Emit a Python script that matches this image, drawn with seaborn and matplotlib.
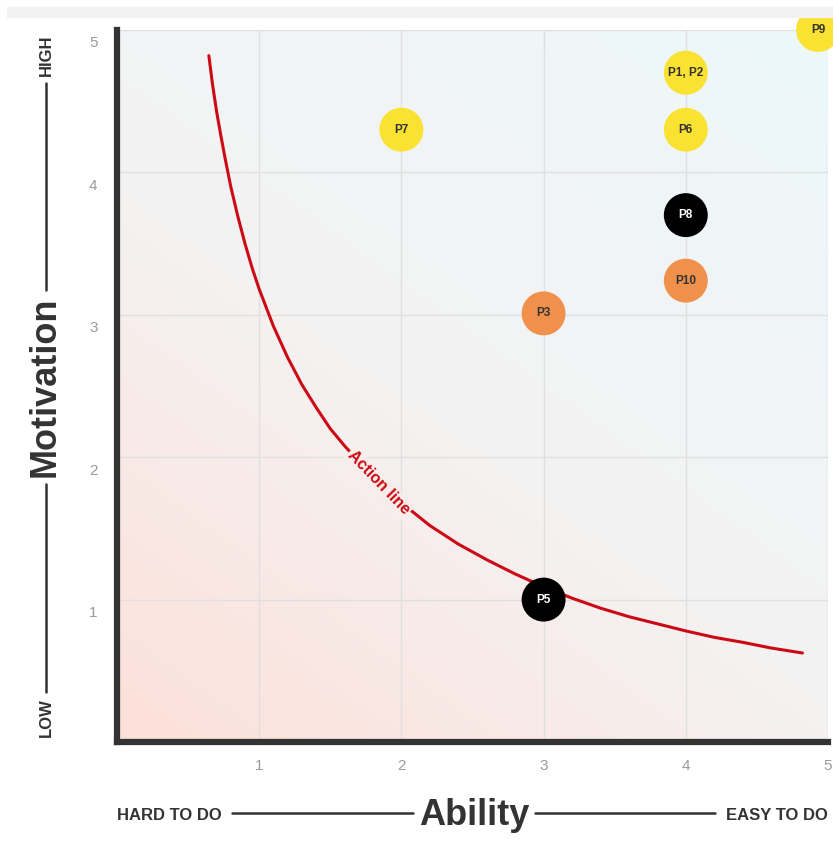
import numpy as np
import pandas as pd
import matplotlib
matplotlib.use("Agg")
import matplotlib.pyplot as plt
import seaborn as sns
from matplotlib.lines import Line2D
from matplotlib.patches import Rectangle
import matplotlib.transforms as mtransforms

# ---------------- data ----------------
labels = ["P9", "P1, P2", "P6", "P7", "P8", "P10", "P3", "P5"]
ability = [4.93, 4.0, 4.0, 2.0, 4.0, 4.0, 3.0, 3.0]
motivation = [5.0, 4.70, 4.30, 4.30, 3.70, 3.24, 3.01, 1.0]
groups = ["yellow", "yellow", "yellow", "yellow", "black", "orange", "orange", "black"]

# action line
curve_x = [0.646, 0.67, 0.70, 0.73, 0.76, 0.80, 0.85, 0.90, 0.95, 1.00,
           1.10, 1.20, 1.30, 1.40, 1.50, 1.60, 1.80, 2.00, 2.20, 2.40,
           2.60, 2.80, 3.00, 3.20, 3.40, 3.60, 3.80, 4.00, 4.20, 4.40,
           4.60, 4.82]
curve_y = [4.82, 4.63, 4.43, 4.26, 4.10, 3.90, 3.69, 3.50, 3.33, 3.18,
           2.92, 2.70, 2.51, 2.35, 2.20, 2.08, 1.86, 1.68, 1.52, 1.39,
           1.28, 1.18, 1.09, 1.01, 0.94, 0.88, 0.83, 0.78, 0.735, 0.70,
           0.66, 0.625]

x_ticks = [1, 2, 3, 4, 5]
y_ticks = [1, 2, 3, 4, 5]

palette = {"yellow": "#F9E231", "orange": "#F0914B", "black": "#000000"}
text_colors = {"yellow": "#333333", "orange": "#333333", "black": "#FFFFFF"}

df = pd.DataFrame({"label": labels, "ability": ability,
                   "motivation": motivation, "group": groups})

# ---------------- style ----------------
sns.set_theme(style="white")
plt.rcParams["font.family"] = ["Liberation Sans", "DejaVu Sans"]

W, H = 833, 846
fig = plt.figure(figsize=(W / 100, H / 100), dpi=100)
fig.patch.set_facecolor("white")
ax = fig.add_axes([117 / W, 1 - 742 / H, (828 - 117) / W, (742 - 30) / H])

# background gradient (pink bottom-left -> light cyan top-right)
n = 300
u, v = np.meshgrid(np.linspace(0, 1, n), np.linspace(0, 1, n))
t = 0.42 * u + 0.58 * v
c0 = np.array([253, 224, 217]) / 255
c1 = np.array([244, 242, 242]) / 255
c2 = np.array([236, 248, 251]) / 255
w1 = np.clip(t / 0.45, 0, 1)[..., None]
w2 = np.clip((t - 0.45) / 0.55, 0, 1)[..., None]
img = np.where(t[..., None] < 0.45, c0 * (1 - w1) + c1 * w1, c1 * (1 - w2) + c2 * w2)
ax.imshow(img, extent=[0, 5, 0, 5], origin="lower", aspect="auto", zorder=0)

ax.set_xlim(0, 5)
ax.set_ylim(0, 5)
ax.set_axisbelow(True)
ax.grid(True, color="#e0e0e0", lw=1.0)
ax.set_xticks(x_ticks)
ax.set_yticks(y_ticks)
ax.set_xticklabels([str(v) for v in x_ticks])
ax.set_yticklabels([str(v) for v in y_ticks])
ax.tick_params(axis="both", length=0, labelsize=11, labelcolor="#9a9a9a")
ax.tick_params(axis="y", pad=14)
ax.tick_params(axis="x", pad=12)
for lab in ax.get_yticklabels():
    lab.set_transform(lab.get_transform() +
                      mtransforms.ScaledTranslation(0, -0.12, fig.dpi_scale_trans))

for side in ["top", "right"]:
    ax.spines[side].set_visible(False)
for side in ["left", "bottom"]:
    ax.spines[side].set_visible(True)
    ax.spines[side].set_color("#333333")
    ax.spines[side].set_linewidth(4.5)
    ax.spines[side].set_zorder(5)

# action line
sns.lineplot(x=curve_x, y=curve_y, sort=False, color="#CC0A16", lw=2.2,
             ax=ax, zorder=2)
ax.text(1.84, 1.82, "Action line", rotation=-46, rotation_mode="anchor",
        ha="center", va="center", color="#CC0A16", fontsize=11.5,
        fontweight="bold", zorder=3,
        bbox=dict(facecolor="#f7edeb", edgecolor="none", pad=1.2))

# points
sns.scatterplot(data=df, x="ability", y="motivation", hue="group",
                palette=palette, s=1000, edgecolor="none", legend=False,
                ax=ax, zorder=4, clip_on=False)
for lab, xx, yy, g in zip(labels, ability, motivation, groups):
    ax.text(xx, yy, lab, ha="center", va="center", color=text_colors[g],
            fontsize=8.5, fontweight="bold", zorder=6, clip_on=False)

ax.set_xlabel("")
ax.set_ylabel("")

# ---------------- figure decorations ----------------
def fx(px):
    return px / W


def fy(py):
    return 1 - py / H


dark = "#333333"
fig.patches.append(Rectangle((fx(7), fy(17)), (833 - 7) / W, 10 / H,
                             transform=fig.transFigure, color="#f2f2f2", zorder=0))

# y-axis label
fig.text(fx(46), fy(55), "HIGH", rotation=90, ha="center", va="center",
         fontsize=12, fontweight="bold", color=dark)
fig.add_artist(Line2D([fx(46), fx(46)], [fy(83), fy(290)], transform=fig.transFigure,
                      color=dark, lw=1.8))
fig.text(fx(45), fy(387), "Motivation", rotation=90, ha="center", va="center",
         fontsize=26, fontweight="bold", color=dark)
fig.add_artist(Line2D([fx(46), fx(46)], [fy(484), fy(692)], transform=fig.transFigure,
                      color=dark, lw=1.8))
fig.text(fx(46), fy(718), "LOW", rotation=90, ha="center", va="center",
         fontsize=12, fontweight="bold", color=dark)

# x-axis label
fig.text(fx(117), fy(820), "HARD TO DO", ha="left", va="baseline",
         fontsize=12, fontweight="bold", color=dark)
fig.add_artist(Line2D([fx(232), fx(413)], [fy(813), fy(813)], transform=fig.transFigure,
                      color=dark, lw=1.8))
fig.text(fx(474), fy(825), "Ability", ha="center", va="baseline",
         fontsize=26, fontweight="bold", color=dark)
fig.add_artist(Line2D([fx(535), fx(715)], [fy(813), fy(813)], transform=fig.transFigure,
                      color=dark, lw=1.8))
fig.text(fx(828), fy(820), "EASY TO DO", ha="right", va="baseline",
         fontsize=12, fontweight="bold", color=dark)

fig.savefig("out.png", dpi=100)
